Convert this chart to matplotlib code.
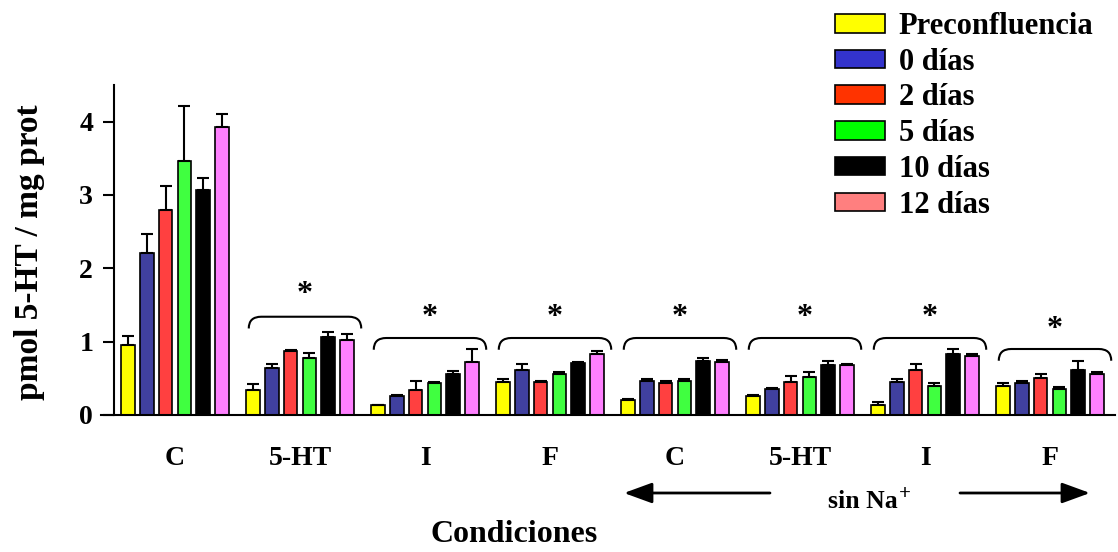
import matplotlib
matplotlib.use("Agg")
import matplotlib.pyplot as plt
import numpy as np
from matplotlib.path import Path
from matplotlib.patches import PathPatch, Patch, FancyArrowPatch

plt.rcParams['font.family'] = ['Liberation Serif', 'DejaVu Serif']
plt.rcParams['font.weight'] = 'bold'

groups = ["C", "5-HT", "I", "F", "C", "5-HT", "I", "F"]
series = ["Preconfluencia", "0 días", "2 días", "5 días", "10 días", "12 días"]

preconf = [0.95, 0.34, 0.13, 0.45, 0.20, 0.26, 0.14, 0.40]
d0 = [2.21, 0.64, 0.26, 0.61, 0.47, 0.36, 0.45, 0.43]
d2 = [2.80, 0.87, 0.34, 0.45, 0.43, 0.45, 0.62, 0.51]
d5 = [3.47, 0.78, 0.43, 0.56, 0.47, 0.52, 0.40, 0.36]
d10 = [3.07, 1.06, 0.56, 0.71, 0.74, 0.68, 0.83, 0.62]
d12 = [3.93, 1.02, 0.72, 0.83, 0.72, 0.68, 0.81, 0.56]

e_preconf = [0.13, 0.08, 0.01, 0.04, 0.02, 0.01, 0.04, 0.03]
e_d0 = [0.26, 0.06, 0.01, 0.09, 0.02, 0.01, 0.04, 0.04]
e_d2 = [0.32, 0.02, 0.12, 0.02, 0.04, 0.08, 0.08, 0.05]
e_d5 = [0.75, 0.06, 0.02, 0.02, 0.02, 0.07, 0.03, 0.02]
e_d10 = [0.16, 0.07, 0.04, 0.01, 0.04, 0.06, 0.07, 0.12]
e_d12 = [0.17, 0.08, 0.18, 0.04, 0.03, 0.02, 0.02, 0.02]

values = [preconf, d0, d2, d5, d10, d12]
errors = [e_preconf, e_d0, e_d2, e_d5, e_d10, e_d12]

bar_colors = ["#FFFF00", "#40409F", "#FF4040", "#40FF40", "#000000", "#FF80FF"]
legend_colors = ["#FFFF00", "#3333CC", "#FF3300", "#00FF00", "#000000", "#FF7F7F"]

# significance brackets (groups 1..7): top, end height, asterisk y
sig_groups = [1, 2, 3, 4, 5, 6, 7]
sig_top = [1.34, 1.05, 1.05, 1.05, 1.05, 1.05, 0.90]
sig_end = [1.18, 0.89, 0.89, 0.89, 0.89, 0.89, 0.74]
sig_star = [1.64, 1.33, 1.33, 1.33, 1.33, 1.33, 1.17]

fig = plt.figure(figsize=(11.18, 5.52), dpi=100)
ax_left = 114 / 1118
ax_right = 1115 / 1118
ax_bottom = (552 - 415) / 552
ax_top = (552 - 85) / 552
ax = fig.add_axes([ax_left, ax_bottom, ax_right - ax_left, ax_top - ax_bottom])

x = np.arange(len(groups))
pitch = 0.15
width = 0.108
for k, (vals, errs, col) in enumerate(zip(values, errors, bar_colors)):
    pos = x + (k - 2.5) * pitch
    ax.bar(pos, vals, width=width, color=col, edgecolor="black", linewidth=1.2, zorder=2)
    ax.errorbar(pos, vals, yerr=[np.zeros(len(vals)), errs], fmt="none",
                ecolor="black", elinewidth=1.5, capsize=4, capthick=1.5, zorder=3)

# brackets
for g, top, end, star in zip(sig_groups, sig_top, sig_end, sig_star):
    x0 = g - 0.41
    x1 = g + 0.49
    rx = 0.1
    verts = [(x0, end), (x0, top), (x0 + rx, top),
             (x1 - rx, top),
             (x1, top), (x1, end)]
    codes = [Path.MOVETO, Path.CURVE3, Path.CURVE3, Path.LINETO, Path.CURVE3, Path.CURVE3]
    ax.add_patch(PathPatch(Path(verts, codes), facecolor="none", edgecolor="black",
                           linewidth=1.5, zorder=3))
    ax.text((x0 + x1) / 2, star, "*", ha="center", va="center", fontsize=23,
            fontweight="bold")

ax.set_xlim(-0.488, 7.52)
ax.set_ylim(0, 4.5)
ax.set_yticks([0, 1, 2, 3, 4])
ax.set_yticklabels(["0", "1", "2", "3", "4"], fontsize=20, fontweight="bold")
ax.tick_params(axis="y", direction="out", length=8, width=1.5, pad=7)
ax.set_xticks(x)
ax.set_xticklabels(groups, fontsize=20, fontweight="bold")
ax.tick_params(axis="x", length=0, pad=22)
for s in ["top", "right"]:
    ax.spines[s].set_visible(False)
ax.spines["left"].set_linewidth(1.5)
ax.spines["bottom"].set_linewidth(1.5)
ax.spines["bottom"].set_bounds(-0.59, 7.52)

fig.text(30 / 1118, 1 - 252 / 552, "pmol 5-HT / mg prot", rotation=90, ha="center",
         va="center", fontsize=24, fontweight="bold")
fig.text(514 / 1118, 1 - 535 / 552, "Condiciones", ha="center", va="center",
         fontsize=23, fontweight="bold")
fig.text(828 / 1118, 1 - 508 / 552, "sin Na", ha="left", va="baseline",
         fontsize=18.5, fontweight="bold")
fig.text(899 / 1118, 1 - 499 / 552, "+", ha="left", va="baseline",
         fontsize=15, fontweight="bold")

y_arr = 1 - 493 / 552
style = "-|>,head_length=1.15,head_width=0.42"
fig.add_artist(FancyArrowPatch(
    (770 / 1118, y_arr), (624 / 1118, y_arr), transform=fig.transFigure,
    arrowstyle=style, mutation_scale=15, shrinkA=0, shrinkB=0,
    color="black", linewidth=2))
fig.add_artist(FancyArrowPatch(
    (960 / 1118, y_arr), (1090 / 1118, y_arr), transform=fig.transFigure,
    arrowstyle=style, mutation_scale=15, shrinkA=0, shrinkB=0,
    color="black", linewidth=2))

handles = [Patch(facecolor=c, edgecolor="black", linewidth=1.2) for c in legend_colors]
fig.legend(handles, series, loc="upper left", bbox_to_anchor=(835 / 1118, 1 - 12 / 552),
           frameon=False, borderpad=0, borderaxespad=0, handlelength=1.63,
           handleheight=0.56, handletextpad=0.46, labelspacing=0.22,
           prop={"family": "Liberation Serif", "weight": "bold", "size": 22})

fig.savefig("out.png", dpi=100)
